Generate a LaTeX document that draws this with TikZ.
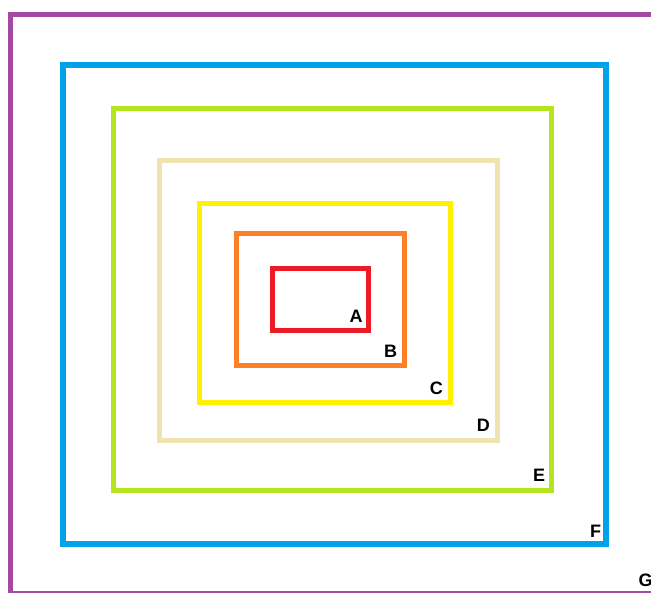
\documentclass[tikz,border=0pt]{standalone}
\usepackage{fontspec}
\setmainfont{Liberation Sans}
\definecolor{cpurple}{HTML}{A349A4}
\definecolor{cblue}{HTML}{00A2E8}
\definecolor{cgreen}{HTML}{B5E61D}
\definecolor{cbeige}{HTML}{EFE4B0}
\definecolor{cyellow}{HTML}{FFF200}
\definecolor{corange}{HTML}{FF7F27}
\definecolor{cred}{HTML}{ED1C24}
\begin{document}
\begin{tikzpicture}[x=1pt,y=-1pt,
  frame/.style={line width=5pt,line join=miter},
  lbl/.style={anchor=base,inner sep=0pt,font=\bfseries\fontsize{18}{18}\selectfont}]
\useasboundingbox (0,0) rectangle (651,593);
\clip (0,0) rectangle (651,593);
\fill[white] (0,0) rectangle (651,593);
\draw[frame,cpurple] (10.5,14.5) rectangle (670,593);
\draw[frame,line width=5.5pt,cblue] (63,65) rectangle (606,544);
\draw[frame,cgreen] (113,108.5) rectangle (551,490.5);
\draw[frame,cbeige] (159.5,161) rectangle (497.5,441);
\draw[frame,cyellow] (199,203.5) rectangle (450,402.5);
\draw[frame,corange] (236.5,234) rectangle (404,366);
\draw[frame,cred] (272.5,268.5) rectangle (368,330.5);
\node[lbl] (A) at (356,322.5) {A};
\node[lbl] (B) at (390.5,358) {B};
\node[lbl] (C) at (436.3,395) {C};
\node[lbl] (D) at (483.3,431.5) {D};
\node[lbl] (E) at (539,482) {E};
\node[lbl] (F) at (595.5,537) {F};
\node[lbl] (G) at (645.5,586) {G};
\end{tikzpicture}
\end{document}
